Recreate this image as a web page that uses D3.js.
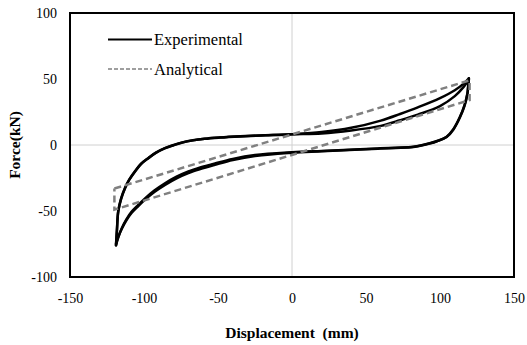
<!DOCTYPE html>
<html>
<head>
<meta charset="utf-8">
<script src="https://cdn.jsdelivr.net/npm/d3@7/dist/d3.min.js"></script>
<style>
  html, body { margin: 0; padding: 0; background: #fff; }
  svg { display: block; }
  text { font-family: "Liberation Serif", "Times New Roman", serif; fill: #000; }
</style>
</head>
<body>
<svg id="chart" width="527" height="345"></svg>
<script>
// Axis ticks
const xTicks = [-150, -100, -50, 0, 50, 100, 150];
const yTicks = [-100, -50, 0, 50, 100];

// Experimental hysteresis: two cycles, each as loading (upper) and unloading (lower) branch
const expUpper1 = [[-118.9,-76],[-118.3,-65],[-117.4,-50.5],[-115.5,-41],[-112.8,-32.8],[-110,-26.5],[-106,-20],
  [-102,-14.5],[-97,-10],[-92,-6],[-86,-2.6],[-80,-0.2],[-74,1.9],[-67,3.5],[-59,4.7],[-49,5.6],[-35,6.5],[-18,7.3],[0,8.2],
  [20,9.8],[40,13],[60,18.5],[73,23.5],[85,28.5],[100,35.5],[110,41.5],[116,46.5],[119.5,50.5]];
const expLower1 = [[119.5,50.5],[119,44],[118.5,39],[116.5,30],[113.5,21.4],[109,12],[104.5,6.3],[98,3],
  [93,1.3],[82,-1.3],[70,-2],[59.5,-2.5],[46,-3.3],[20,-4.5],[0,-5.5],[-25,-7.6],[-40,-10.5],[-52,-13.9],
  [-62,-17],[-70,-20],[-78,-24],[-85.8,-29],[-93,-34.5],[-99.3,-40.4],[-104,-45.5],[-108.3,-50.5],[-112,-56.5],
  [-115,-63],[-117.3,-69.5],[-118.9,-76]];
const expUpper2 = [[-118.9,-75],[-118.3,-64.5],[-117.4,-50],[-115.5,-40.6],[-112.8,-32.4],[-110,-26.2],[-106,-19.7],
  [-102,-14.2],[-97,-9.8],[-92,-5.8],[-86,-2.4],[-80,0],[-74,2],[-67,3.6],[-59,4.8],[-49,5.7],[-35,6.6],[-18,7.4],[0,8.2],
  [20,8.8],[40,11],[60,14.5],[73,18.7],[85,23],[100,29.5],[110,37],[116,44],[119.5,49.5]];
const expLower2 = [[119.5,49.5],[119,43.5],[118.5,38.5],[116.5,29.5],[113.5,21],[109,11.6],[104.5,6],[98,2.8],
  [93,1.1],[82,-1.5],[70,-2.2],[59.5,-2.7],[46,-3.5],[20,-4.8],[0,-5.8],[-25,-8.3],[-40,-11.4],[-52,-15],
  [-62,-18.2],[-70,-21.2],[-78,-25.2],[-85.8,-30.2],[-93,-35.6],[-99.3,-41.4],[-104,-46.4],[-108.3,-51.3],[-112,-57.2],
  [-115,-63.5],[-117.3,-69.5],[-118.9,-75]];

// Analytical bilinear loop
const analytical = [[-120,-33],[120,49],[120,34],[-120,-49],[-120,-33]];

const svg = d3.select("#chart");
const plot = { left: 70, right: 514, top: 13, bottom: 277 };

const x = d3.scaleLinear().domain([-150, 150]).range([plot.left, plot.right]);
const y = d3.scaleLinear().domain([-100, 100]).range([plot.bottom, plot.top]);

// Zero reference lines
svg.append("line")
  .attr("x1", x(0)).attr("x2", x(0)).attr("y1", plot.top).attr("y2", plot.bottom)
  .attr("stroke", "#d0d0d0").attr("stroke-width", 1);
svg.append("line")
  .attr("x1", plot.left).attr("x2", plot.right).attr("y1", y(0)).attr("y2", y(0))
  .attr("stroke", "#d0d0d0").attr("stroke-width", 1);

// Axes (labels only; the frame draws the border)
const fmt = d => String(d);
const xAxis = d3.axisBottom(x).tickValues(xTicks).tickFormat(fmt).tickSize(0).tickPadding(16);
const yAxis = d3.axisLeft(y).tickValues(yTicks).tickFormat(fmt).tickSize(0).tickPadding(13);

const gx = svg.append("g").attr("transform", `translate(0,${plot.bottom})`).call(xAxis);
const gy = svg.append("g").attr("transform", `translate(${plot.left},0)`).call(yAxis);
[gx, gy].forEach(g => {
  g.select(".domain").remove();
  g.selectAll("text").attr("font-family", "Liberation Serif, Times New Roman, serif")
    .attr("font-size", 14).attr("fill", "#000");
});

const curve = d3.line().x(d => x(d[0])).y(d => y(d[1])).curve(d3.curveCatmullRom.alpha(0.5));
const straight = d3.line().x(d => x(d[0])).y(d => y(d[1]));

// Experimental curves
[expUpper1, expLower1, expUpper2, expLower2].forEach(branch => {
  svg.append("path").datum(branch)
    .attr("d", curve)
    .attr("fill", "none")
    .attr("stroke", "#000")
    .attr("stroke-width", 2.5)
    .attr("stroke-linejoin", "round")
    .attr("stroke-linecap", "round");
});

// Analytical loop
svg.append("path").datum(analytical)
  .attr("d", straight)
  .attr("fill", "none")
  .attr("stroke", "#808080")
  .attr("stroke-width", 2.5)
  .attr("stroke-dasharray", "7,4");

// Plot frame
svg.append("rect")
  .attr("x", plot.left).attr("y", plot.top)
  .attr("width", plot.right - plot.left).attr("height", plot.bottom - plot.top)
  .attr("fill", "none").attr("stroke", "#000").attr("stroke-width", 2);

// Legend
const legend = svg.append("g");
legend.append("line").attr("x1", 108).attr("x2", 152).attr("y1", 39.5).attr("y2", 39.5)
  .attr("stroke", "#000").attr("stroke-width", 2.2);
legend.append("text").attr("x", 154).attr("y", 45).attr("font-size", 16.5).text("Experimental");
legend.append("line").attr("x1", 108).attr("x2", 152).attr("y1", 69).attr("y2", 69)
  .attr("stroke", "#808080").attr("stroke-width", 1.6).attr("stroke-dasharray", "4,2");
legend.append("text").attr("x", 154).attr("y", 74.5).attr("font-size", 16.5).text("Analytical");

// Axis titles
svg.append("text")
  .attr("x", x(0)).attr("y", 338)
  .attr("text-anchor", "middle").attr("font-size", 15.5).attr("font-weight", "bold")
  .attr("xml:space", "preserve")
  .text("Displacement  (mm)");
svg.append("text")
  .attr("transform", `translate(20,${(plot.top + plot.bottom) / 2}) rotate(-90)`)
  .attr("text-anchor", "middle").attr("font-size", 15.5).attr("font-weight", "bold")
  .text("Force(kN)");
</script>
</body>
</html>
